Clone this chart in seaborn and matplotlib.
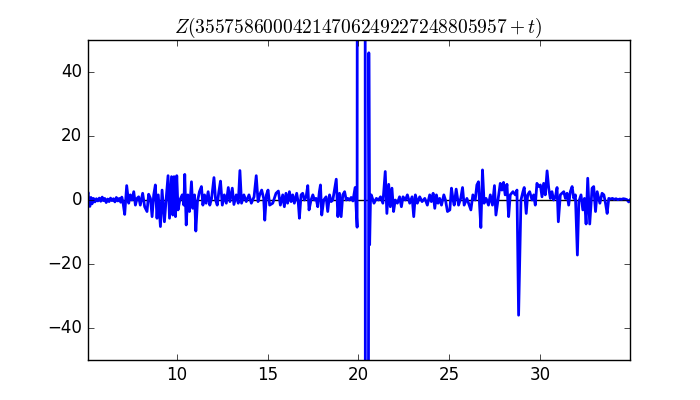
import numpy as np
import pandas as pd
import matplotlib
matplotlib.use("Agg")
import matplotlib.pyplot as plt
import seaborn as sns

TITLE = r"$Z(35575860004214706249227248805957+t)$"

# Segment 1: t 5.07 .. 7.05 (quiet start)
t_1 = [5.07, 5.10, 5.15, 5.20, 5.26, 5.32, 5.40, 5.48, 5.56, 5.64, 5.72, 5.80,
       5.88, 5.95, 6.02, 6.10, 6.18, 6.26, 6.34, 6.42, 6.50, 6.58, 6.66, 6.74,
       6.82, 6.90, 6.96, 7.02]
z_1 = [1.5, 2.4, -0.5, -2.0, 0.8, -1.2, 0.5, -0.6, 0.4, -0.3, 0.6, -0.4,
       0.9, -0.2, 0.5, -0.8, 0.3, -0.5, 0.6, -0.2, 0.4, -0.6, 0.8, -0.3,
       0.5, -0.7, 0.9, -0.5]

# Segment 2: t 7.1 .. 15.1
t_2 = [7.12, 7.23, 7.34, 7.43, 7.52, 7.62, 7.71, 7.80, 7.89, 7.98, 8.11, 8.22,
       8.35, 8.44, 8.54, 8.63, 8.72, 8.81, 8.90, 8.97, 9.09, 9.18, 9.31, 9.40,
       9.51, 9.59, 9.70, 9.77, 9.84, 9.92, 9.99, 10.06, 10.16, 10.29, 10.38,
       10.43, 10.51, 10.60, 10.69, 10.80, 10.87, 10.97, 11.04, 11.13, 11.24,
       11.35, 11.43, 11.52, 11.61, 11.72, 11.81, 11.91, 12.04, 12.13, 12.22,
       12.31, 12.40, 12.50, 12.61, 12.72, 12.83, 12.92, 13.05, 13.14, 13.27,
       13.38, 13.47, 13.56, 13.69, 13.82, 13.97, 14.10, 14.25, 14.37, 14.47,
       14.56, 14.67, 14.78, 14.84, 14.93, 15.02, 15.11]
z_2 = [-4.5, 4.5, -1.0, 1.6, 0.0, 2.6, -1.6, 0.5, 1.0, -1.6, 2.1, -2.1,
       -3.6, 1.8, 0.5, -5.2, 1.6, 4.7, -5.7, 1.6, -8.3, 3.1, -6.8, 0.0,
       7.6, -5.7, 7.3, -4.7, 7.3, -5.2, 7.6, -3.1, 0.0, 1.6, -1.6,
       8.0, -7.8, 1.6, -3.6, 5.7, -2.6, 1.6, -9.7, -0.5, 2.6,
       4.2, -1.6, 1.6, -1.0, 2.6, -1.6, 0.5, 7.0, 0.0, -1.6,
       2.6, 5.9, -1.6, 1.6, -1.0, 3.9, -0.5, 3.7, -1.4, 1.6,
       -1.0, 9.2, -1.0, 1.6, -0.5, 1.6, -1.0, 1.0, 7.6, -0.5,
       1.6, 3.1, 0.5, -6.3, 1.6, 3.1, -1.6]

# Segment 3: t 15.2 .. 19.9
t_3 = [15.28, 15.46, 15.59, 15.70, 15.83, 15.92, 16.01, 16.10, 16.20, 16.29,
       16.38, 16.47, 16.60, 16.69, 16.75, 16.84, 16.93, 17.03, 17.12, 17.21,
       17.28, 17.39, 17.49, 17.58, 17.67, 17.76, 17.85, 17.91, 17.98, 18.09,
       18.22, 18.31, 18.41, 18.50, 18.59, 18.68, 18.78, 18.87, 18.96, 19.05,
       19.14, 19.24, 19.33, 19.42, 19.51, 19.60, 19.70, 19.82, 19.93]
z_3 = [-1.0, 2.1, 2.8, -1.6, 1.6, -2.1, 2.1, -1.0, 2.6, -0.5,
       1.6, -1.0, 2.1, -1.0, -5.7, 1.6, 2.1, 0.0, 1.0, 4.5,
       -3.1, 0.0, 1.6, 0.0, 0.5, -2.1, 2.6, 4.7, -4.7, 0.0,
       1.0, -3.6, 1.6, -0.5, 0.0, 3.1, 6.5, -5.2, 2.1, -5.2,
       1.6, 2.6, 0.0, 0.5, 0.0, 0.8, -0.3, 3.9, -8.5]

# Segment 4: the large excursion around t = 20
t_4 = [19.97, 20.10, 20.25, 20.355, 20.405, 20.45, 20.50, 20.575, 20.62, 20.67]
z_4 = [400.0, 500.0, 450.0, 350.0, -400.0, -500.0, -350.0, 46.0, -14.0, 1.0]

# Segment 5: t 20.7 .. 25.2
t_5 = [20.71, 20.86, 20.99, 21.11, 21.22, 21.35, 21.48, 21.57, 21.67, 21.76,
       21.85, 21.94, 22.03, 22.15, 22.27, 22.37, 22.46, 22.59, 22.70, 22.83,
       22.96, 23.05, 23.14, 23.25, 23.38, 23.51, 23.66, 23.80, 23.93, 24.02,
       24.12, 24.21, 24.30, 24.39, 24.48, 24.58, 24.71, 24.80, 24.91, 25.04,
       25.13, 25.22]
z_5 = [1.6, -1.0, 0.5, 0.0, 1.0, -1.0, 8.9, -4.2, 4.9, -2.1,
       3.7, -3.6, 0.0, -1.0, 1.0, -2.1, 1.0, 0.0, 1.6, -1.0,
       1.0, -5.2, 1.6, -1.0, 1.0, -0.5, 0.5, -1.6, 1.6, -0.5,
       2.1, -2.6, 1.6, -1.0, 0.5, -1.6, 1.6, 0.0, -3.6, -3.1,
       3.7, 0.0]

# Segment 6: t 25.3 .. 35
t_6 = [25.28, 25.39, 25.52, 25.64, 25.74, 25.83, 25.98, 26.07, 26.20, 26.31,
       26.44, 26.53, 26.62, 26.68, 26.75, 26.84, 26.93, 27.04, 27.17, 27.27,
       27.39, 27.50, 27.58, 27.73, 27.82, 27.91, 28.00, 28.09, 28.19, 28.28,
       28.37, 28.52, 28.65, 28.74, 28.83, 28.96, 29.07, 29.14, 29.25, 29.33,
       29.44, 29.57, 29.66, 29.75, 29.84, 29.94, 30.03, 30.12, 30.21, 30.30,
       30.40, 30.49, 30.58, 30.67, 30.76, 30.86, 30.95, 31.02, 31.13, 31.22,
       31.32, 31.41, 31.50, 31.59, 31.68, 31.78, 31.87, 31.96, 32.07, 32.15,
       32.27, 32.37, 32.46, 32.55, 32.64, 32.75, 32.88, 32.97, 33.07, 33.16,
       33.31, 33.43, 33.53, 33.62, 33.71, 33.80, 33.90, 34.00, 34.10, 34.20,
       34.30, 34.40, 34.50, 34.60, 34.70, 34.80, 34.90, 34.97]
z_6 = [-1.6, 3.4, -1.6, 0.5, 3.9, -1.6, 0.5, -1.0, -3.1, 1.6,
       0.0, 4.7, 5.7, -1.6, -8.6, 9.4, -1.0, 0.5, -1.6, 1.6,
       -1.6, 4.5, -4.7, 1.6, 5.2, 3.1, 5.5, 1.6, 4.9, -5.2,
       1.6, 2.6, 1.6, 3.1, -36.0, 0.0, 2.6, 3.9, -4.2, 1.6,
       2.6, 0.0, 1.6, -1.6, 5.2, 4.2, 4.7, 1.0, 5.2, 1.6,
       9.1, 3.7, 0.5, 2.6, 0.0, 1.0, 3.9, -6.8, 1.6, 2.1,
       2.6, 0.5, 2.1, -1.6, 2.6, 4.2, 0.5, 1.6, -17.2, -0.5,
       1.6, -3.1, 0.5, -7.5, 6.8, -7.5, 3.7, 4.2, -3.6, 2.6,
       -1.0, 2.1, 1.6, -1.0, -4.2, 0.5, 0.3, 0.5, 0.2, 0.4,
       0.1, 0.3, 0.2, 0.4, 0.3, 0.1, -0.6, 0.0]

t_all = t_1 + t_2 + t_3 + t_4 + t_5 + t_6
z_all = z_1 + z_2 + z_3 + z_4 + z_5 + z_6
df = pd.DataFrame({"t": t_all, "Z": z_all})

plt.style.use("classic")
fig, ax = plt.subplots(figsize=(7, 4), dpi=100)
fig.patch.set_facecolor("white")
fig.subplots_adjust(left=0.125, right=0.9, bottom=0.1, top=0.9)

ax.axhline(0, color="black", lw=1.0, zorder=1)
sns.lineplot(data=df, x="t", y="Z", ax=ax, color="#0000ff", lw=2.0,
             estimator=None, sort=False, zorder=2)

ax.set_xlim(5.07, 34.97)
ax.set_ylim(-50, 50)
ax.set_xticks([10, 15, 20, 25, 30])
ax.set_yticks([-40, -20, 0, 20, 40])
ax.set_xlabel("")
ax.set_ylabel("")
ax.set_title(TITLE, fontsize=14)

fig.savefig("out.png", dpi=100, facecolor="white")
